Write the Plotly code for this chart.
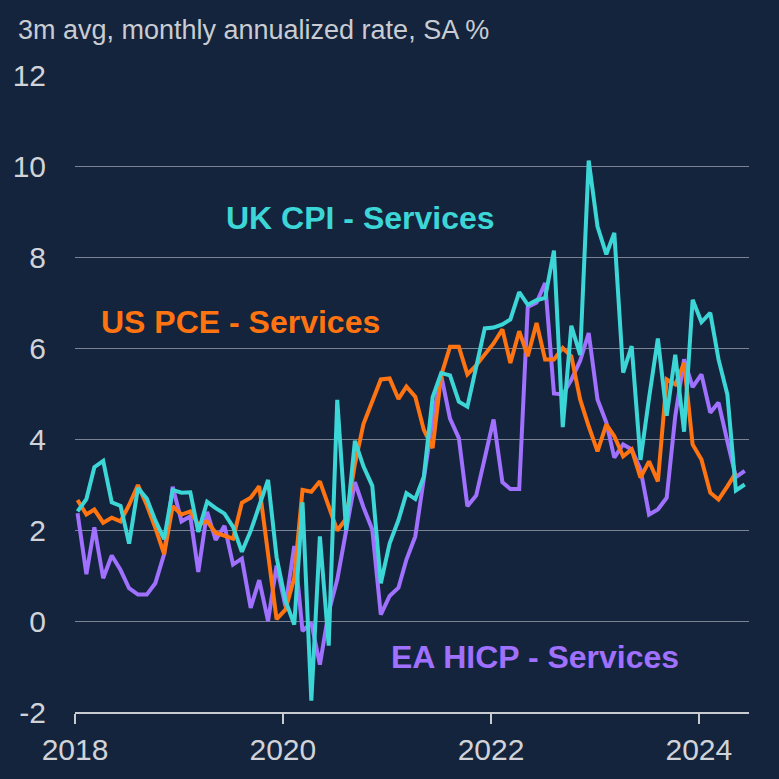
import plotly.graph_objects as go
import pandas as pd

months = pd.date_range("2018-01-01", "2024-06-01", freq="MS") + pd.Timedelta(days=9)
dates = [d.strftime("%Y-%m-%d") for d in months]

uk_cpi_services = [
    2.41, 2.68, 3.38, 3.52, 2.61, 2.53, 1.70, 2.92, 2.69, 2.21, 1.80, 2.88,
    2.82, 2.83, 1.96, 2.62, 2.48, 2.36, 2.07, 1.52, 1.98, 2.55, 3.10, 1.40,
    0.45, -0.08, 2.61, -1.75, 1.86, -0.54, 4.86, 2.00, 3.96, 3.40, 2.97, 0.83,
    1.71, 2.22, 2.81, 2.68, 3.17, 4.92, 5.45, 5.40, 4.82, 4.71, 5.60, 6.43,
    6.45, 6.52, 6.63, 7.23, 6.95, 7.05, 7.10, 8.14, 4.26, 6.49, 5.85, 10.12,
    8.67, 8.06, 8.53, 5.46, 6.04, 3.54, 4.90, 6.21, 4.51, 5.85, 4.16, 7.06,
    6.57, 6.77, 5.75, 4.98, 2.87, 3.00,
]

us_pce_services = [
    2.66, 2.34, 2.45, 2.16, 2.27, 2.19, 2.55, 2.99, 2.55, 2.05, 1.47, 2.52,
    2.34, 2.41, 2.12, 2.19, 1.94, 1.87, 1.81, 2.60, 2.71, 2.96, 1.50, 0.04,
    0.25, 0.95, 2.88, 2.84, 3.07, 2.55, 1.99, 2.25, 3.45, 4.33, 4.80, 5.31,
    5.33, 4.88, 5.15, 4.93, 4.20, 3.80, 5.40, 6.03, 6.03, 5.42, 5.62, 5.87,
    6.10, 6.41, 5.67, 6.37, 5.82, 6.55, 5.75, 5.75, 6.00, 5.82, 4.87, 4.28,
    3.73, 4.32, 4.06, 3.62, 3.77, 3.15, 3.51, 3.07, 5.31, 5.20, 5.67, 3.88,
    3.55, 2.82, 2.67, 2.96, 3.26,
]

ea_hicp_services = [
    2.37, 1.03, 2.06, 0.94, 1.44, 1.12, 0.72, 0.58, 0.58, 0.83, 1.47, 2.95,
    2.19, 2.30, 1.08, 2.40, 1.78, 2.09, 1.24, 1.37, 0.29, 0.90, 0.00, 1.22,
    0.32, 1.65, -0.22, -0.04, -0.96, 0.20, 0.91, 1.95, 3.05, 2.50, 2.01, 0.14,
    0.55, 0.73, 1.35, 1.86, 3.18, 4.43, 5.40, 4.45, 4.02, 2.52, 2.76, 3.60,
    4.43, 3.05, 2.90, 2.90, 6.90, 7.00, 7.43, 5.00, 4.98, 5.30, 5.72, 6.33,
    4.87, 4.36, 3.59, 3.88, 3.77, 3.33, 2.34, 2.45, 2.71, 4.50, 5.75, 5.14,
    5.42, 4.58, 4.80, 3.95, 3.16, 3.30,
]

x_tick_dates = ["2018-01-01", "2020-01-01", "2022-01-01", "2024-01-01"]
x_tick_labels = ["2018", "2020", "2022", "2024"]
y_ticks = [-2, 0, 2, 4, 6, 8, 10, 12]
y_tick_labels = ["-2", "0", "2", "4", "6", "8", "10", "12"]

BG = "#14243d"
C_UK = "#3dd6d6"
C_US = "#ff7410"
C_EA = "#a070ff"
FONT = "Arial, Liberation Sans, sans-serif"

fig = go.Figure()
fig.add_trace(go.Scatter(x=dates, y=ea_hicp_services, mode="lines",
                         line=dict(color=C_EA, width=4), name="EA HICP - Services"))
fig.add_trace(go.Scatter(x=dates[:len(us_pce_services)], y=us_pce_services, mode="lines",
                         line=dict(color=C_US, width=4), name="US PCE - Services"))
fig.add_trace(go.Scatter(x=dates, y=uk_cpi_services, mode="lines",
                         line=dict(color=C_UK, width=4), name="UK CPI - Services"))

fig.update_layout(
    width=779, height=779,
    margin=dict(l=75, r=30, t=75, b=67),
    paper_bgcolor=BG, plot_bgcolor=BG,
    showlegend=False,
    font=dict(family=FONT, color="#d0d3d8"),
    title=dict(text="3m avg, monthly annualized rate, SA %",
               xref="container", yref="container", x=0.023, y=0.962,
               xanchor="left", yanchor="middle",
               font=dict(family=FONT, size=27, color="#c9ccd2")),
    xaxis=dict(
        range=["2018-01-01", "2024-06-25"],
        tickvals=x_tick_dates, ticktext=x_tick_labels,
        showgrid=False, zeroline=False,
        showline=True, linecolor="#c8cbd0", linewidth=2,
        ticks="outside", ticklen=10, tickwidth=2, tickcolor="#c8cbd0",
        tickfont=dict(family=FONT, size=30, color="#d0d3d8"),
        ticklabelstandoff=0,
    ),
    yaxis=dict(
        range=[-2, 12], tickvals=y_ticks, ticktext=y_tick_labels,
        showgrid=True, gridcolor="#7a8392", gridwidth=1,
        zeroline=False, showline=False, ticks="",
        tickfont=dict(family=FONT, size=30, color="#d0d3d8"),
        ticklabelstandoff=28,
    ),
    annotations=[
        dict(text="<b>UK CPI - Services</b>", xref="paper", yref="paper",
             x=0.423, y=0.7755, xanchor="center", yanchor="middle", showarrow=False,
             font=dict(family=FONT, size=32, color=C_UK)),
        dict(text="<b>US PCE - Services</b>", xref="paper", yref="paper",
             x=0.245, y=0.612, xanchor="center", yanchor="middle", showarrow=False,
             font=dict(family=FONT, size=32, color=C_US)),
        dict(text="<b>EA HICP - Services</b>", xref="paper", yref="paper",
             x=0.6825, y=0.0863, xanchor="center", yanchor="middle", showarrow=False,
             font=dict(family=FONT, size=32, color=C_EA)),
    ],
)

fig.write_html(
    "out.html",
    config={"displayModeBar": False},
    post_script="document.body.style.margin='0';document.body.style.background='" + BG + "';",
)
